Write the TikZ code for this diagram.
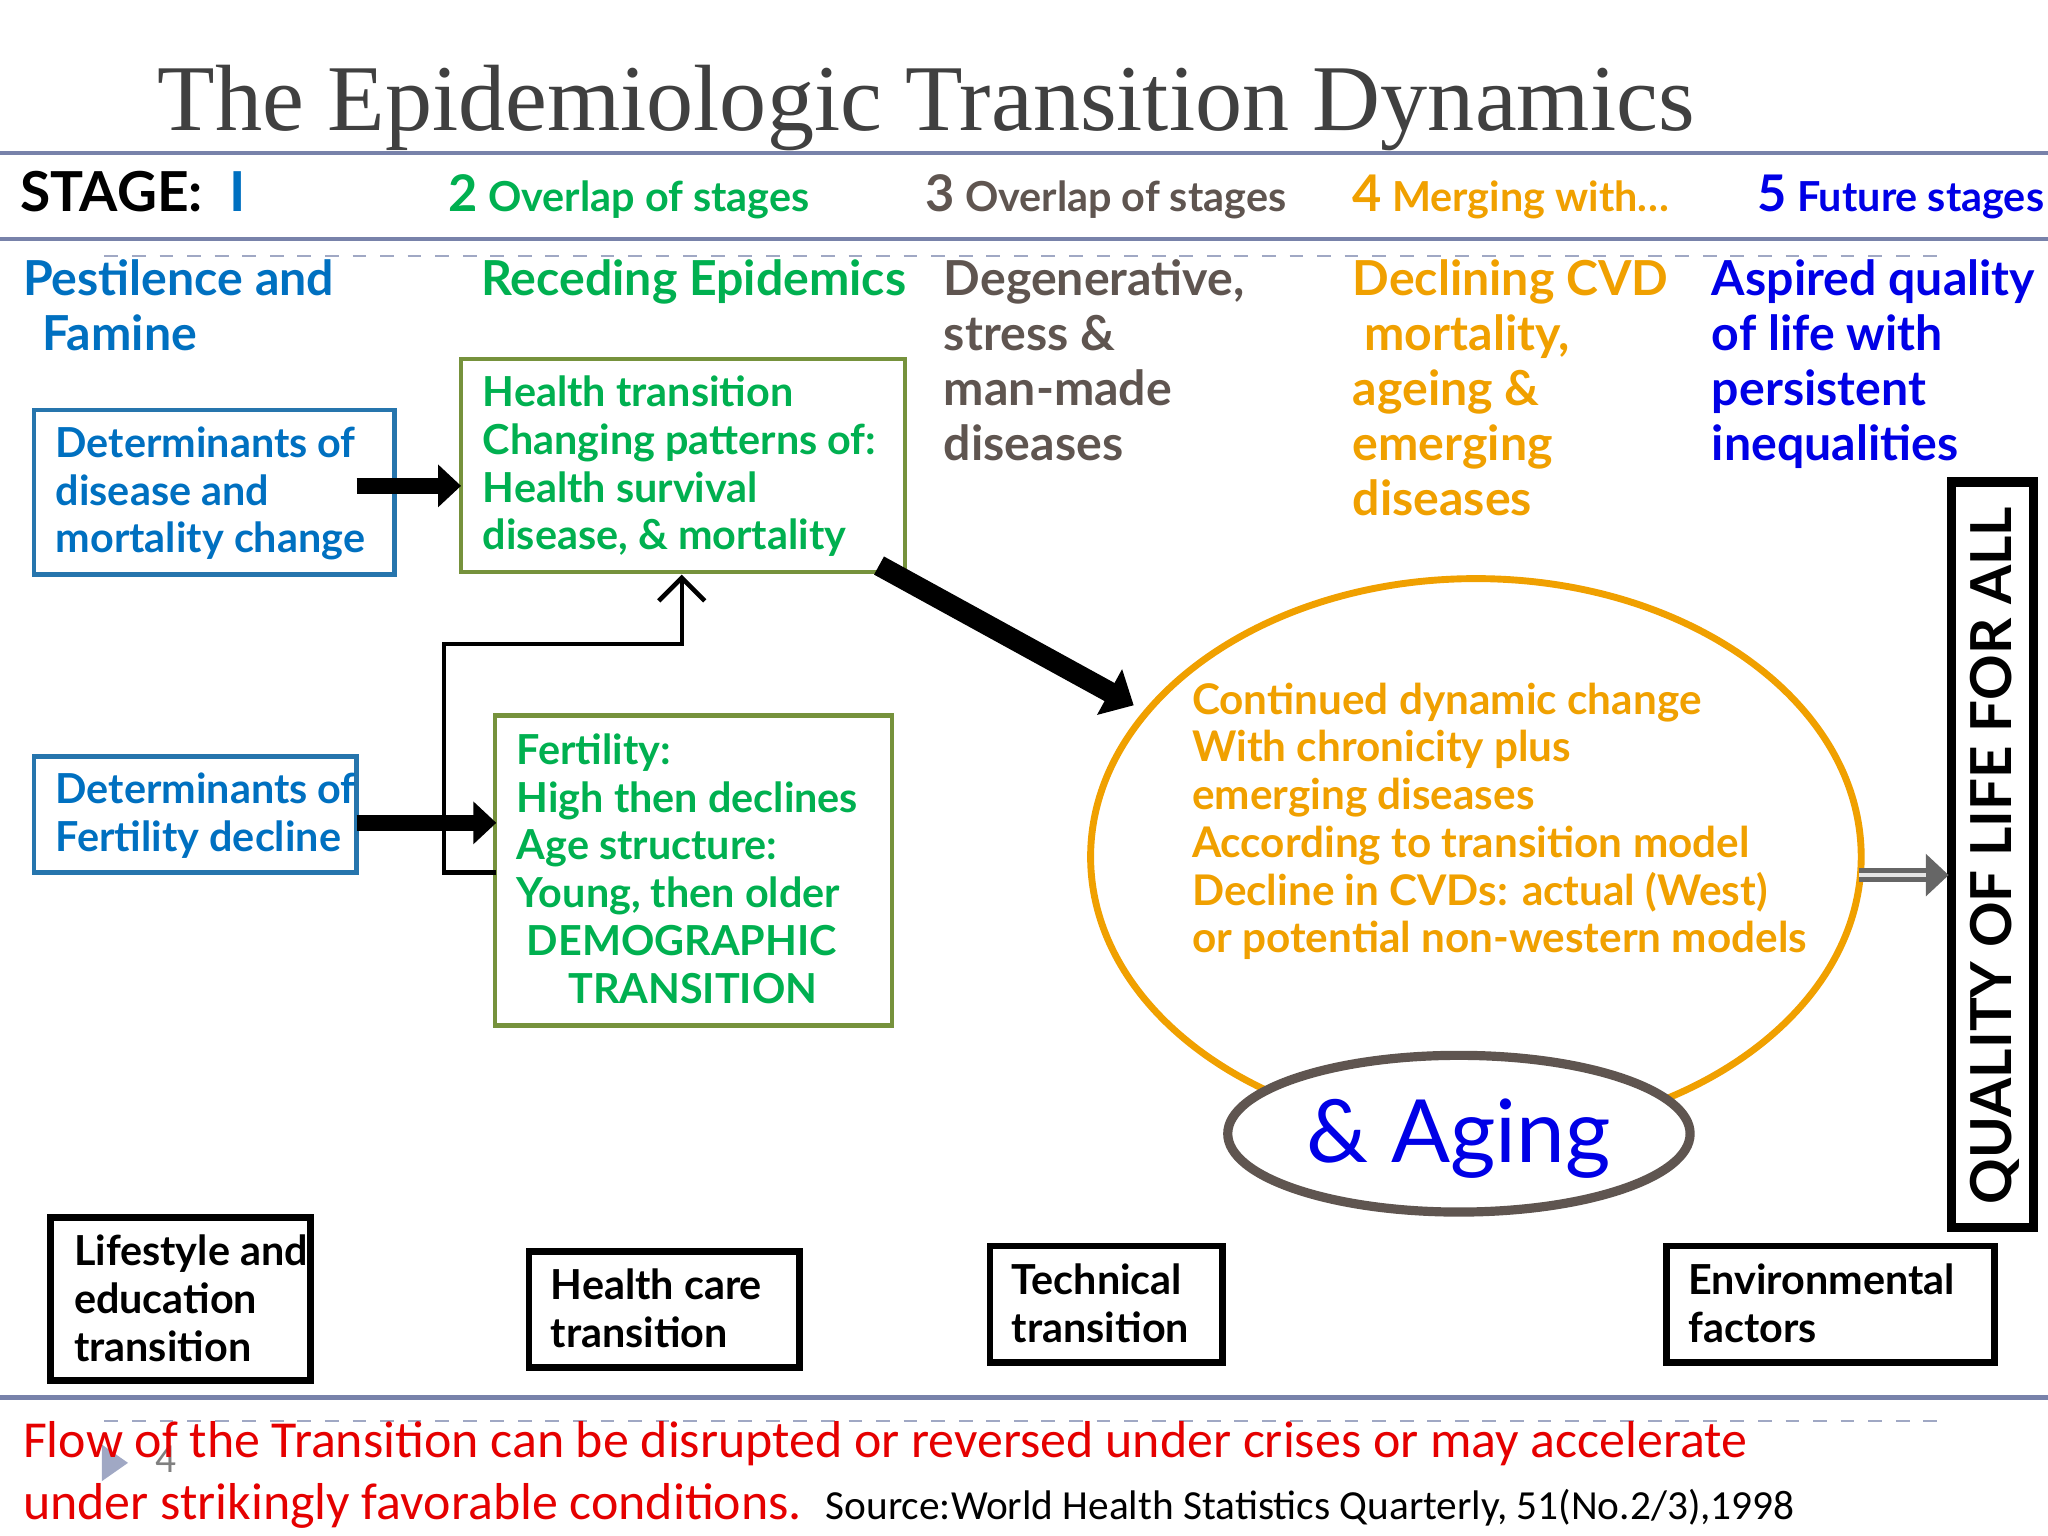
\documentclass[tikz,border=0pt]{standalone}
\usepackage{fontspec}
\setmainfont{Lato}
\newfontfamily\ttl{Liberation Serif}
\newfontfamily\src{Carlito}
\usetikzlibrary{arrows.meta}
\definecolor{cblue}{RGB}{0,112,192}
\definecolor{cgreen}{RGB}{0,176,80}
\definecolor{olive}{RGB}{118,146,60}
\definecolor{corange}{RGB}{240,160,0}
\definecolor{cgray}{RGB}{95,85,80}
\definecolor{vblue}{RGB}{0,0,230}
\definecolor{rule}{RGB}{120,130,170}
\begin{document}
\begin{tikzpicture}[x=0.01cm,y=-0.01cm,
  t/.style={anchor=north west,inner sep=0,align=left,font=\bfseries\fontsize{9}{10.4}\selectfont},
  hd/.style={t,font=\bfseries\fontsize{10.5}{12}\selectfont},
  st/.style={anchor=base west,inner sep=0,font=\bfseries\fontsize{9}{10}\selectfont},
  bx/.style={draw,line width=1pt}]
\useasboundingbox (0,0) rectangle (1568,1176);
\node[anchor=base west,inner sep=0,font=\ttl\fontsize{20.5}{24}\selectfont,text=black!75] (title) at (120,100) {The Epidemiologic Transition Dynamics};
\draw[rule,line width=1pt] (0,117) -- (1568,117);
\draw[rule,line width=1pt] (0,183) -- (1568,183);
\draw[rule!70,dashed] (80,196) -- (1490,196);
\draw[rule,line width=1pt] (0,1070) -- (1568,1070);
\draw[rule!70,dashed] (80,1088) -- (1490,1088);
% stage row
\node[st,font=\bfseries\fontsize{12}{14}\selectfont] (s1) at (15,162) {STAGE:\ \ \textcolor{cblue}{I}};
\node[st,text=cgreen] (s2) at (343,162) {{\fontsize{11}{12}\selectfont 2} Overlap of stages};
\node[st,text=cgray] (s3) at (708,162) {{\fontsize{11}{12}\selectfont 3} Overlap of stages};
\node[st,text=corange] (s4) at (1035,162) {{\fontsize{11}{12}\selectfont 4} Merging with\dots};
\node[st,text=vblue] (s5) at (1345,162) {{\fontsize{11}{12}\selectfont 5} Future stages};
% headers
\node[hd,text=cblue] (h1) at (17,198) {Pestilence and\\\ \,Famine};
\node[hd,text=cgreen] (h2) at (368,198) {Receding Epidemics};
\node[hd,text=cgray] (h3) at (722,198) {Degenerative,\\stress \&\\man-made\\diseases};
\node[hd,text=corange] (h4) at (1035,198) {Declining CVD\\\ mortality,\\ageing \&\\emerging\\diseases};
\node[hd,text=vblue] (h5) at (1310,198) {Aspired quality\\of life with\\persistent\\inequalities};
% boxes
\draw[bx,cblue!70!gray] (26,314) rectangle (302,440);
\node[t,text=cblue] (d1) at (42,326) {Determinants of\\disease and\\mortality change};
\draw[bx,olive] (353,275) rectangle (693,438);
\node[t,text=cgreen] (g1) at (369,287) {Health transition\\Changing patterns of:\\Health survival\\disease, \& mortality};
\draw[bx,cblue!70!gray] (26,579) rectangle (273,668);
\node[t,text=cblue] (d2) at (42,591) {Determinants of\\Fertility decline};
\draw[bx,olive] (379,548) rectangle (683,785);
\node[t,text=cgreen] (g2) at (395,561) {Fertility:\\High then declines\\Age structure:\\Young, then older\\\ DEMOGRAPHIC\\\quad\ TRANSITION};
\coordinate (a1s) at (273,372); \coordinate (a1e) at (353,372);
\draw[line width=3.5pt,-{Triangle[length=5pt,width=9pt]}] (a1s) -- (a1e);
\coordinate (a2s) at (273,630); \coordinate (a2e) at (380,630);
\draw[line width=3.5pt,-{Triangle[length=5pt,width=9pt]}] (a2s) -- (a2e);
\coordinate (c1) at (380,668);
\draw[line width=1pt,-{Straight Barb[length=5pt]}] (c1) -- (340,668) -- (340,493) -- (522,493) -- (522,440);
\coordinate (b1) at (673,433); \coordinate (b2) at (868,540);
\draw[line width=4.5pt,-{Triangle[length=6pt,width=11pt]}] (b1) -- (b2);
% ellipse
\draw[corange,line width=1.5pt] (1130,656) ellipse [x radius=295,y radius=213];
\node[t,text=corange,font=\bfseries\fontsize{9.2}{10.4}\selectfont] (e) at (912,522) {Continued dynamic change\\With chronicity plus\\emerging diseases\\According to transition model\\Decline in CVDs: actual (West)\\or potential non-western models};
\draw[cgray,line width=2pt,fill=white] (1117,868) ellipse [x radius=177,y radius=60];
\node[font=\fontsize{19}{22}\selectfont,text=vblue,inner sep=0] (ag) at (1117,872) {\& Aging};
\draw[bx,line width=2pt] (1494,369) rectangle (1557,940);
\node[rotate=90,font=\bfseries\fontsize{12.3}{14}\selectfont,inner sep=0] (q) at (1527,655) {QUALITY OF LIFE FOR ALL};
\coordinate (r1) at (1423,670); \coordinate (r2) at (1492,670);
\draw[line width=3pt,gray!80!black,-{Triangle[length=5pt,width=9pt]}] (r1) -- (r2);
\draw[line width=1pt,gray!20,shorten >=5pt] (r1) -- (r2);
% bottom boxes
\draw[bx,line width=1.5pt] (39,932) rectangle (238,1057);
\node[t] (l1) at (56,945) {Lifestyle and\\education\\transition};
\draw[bx,line width=1.5pt] (405,958) rectangle (612,1047);
\node[t] (l2) at (421,971) {Health care\\transition};
\draw[bx,line width=1.5pt] (758,954) rectangle (936,1043);
\node[t] (l3) at (774,967) {Technical\\transition};
\draw[bx,line width=1.5pt] (1276,954) rectangle (1527,1043);
\node[t] (l4) at (1292,967) {Environmental\\factors};
% footer
\fill[rule!70] (78,1106) -- (98,1120) -- (78,1134) -- cycle;
\node[font=\src\fontsize{9}{10}\selectfont,text=gray,inner sep=0] (pn) at (127,1117) {4};
\node[anchor=base west,inner sep=0,font=\src\fontsize{11.3}{14}\selectfont,text=red!90!black] (f1) at (17,1116) {Flow of the Transition can be disrupted or reversed under crises or may accelerate};
\node[anchor=base west,inner sep=0,font=\src\fontsize{11.3}{14}\selectfont,text=red!90!black] (f2) at (17,1163) {under strikingly favorable conditions.\ \ {\color{black}\fontsize{9}{12}\selectfont Source:World Health Statistics Quarterly, 51(No.2/3),1998}};
\end{tikzpicture}
\end{document}
